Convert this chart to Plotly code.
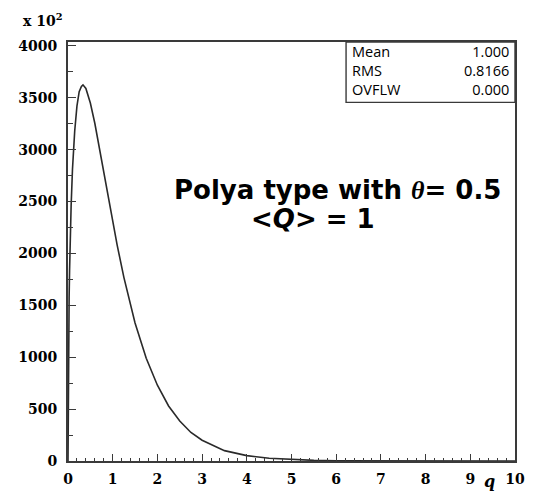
import plotly.graph_objects as go

# Curve (q, counts in units of 10^2)
q_vals = [0.0, 0.005, 0.01, 0.015, 0.025, 0.035, 0.05, 0.07, 0.1, 0.15, 0.2, 0.25,
          0.3, 0.335, 0.4, 0.5, 0.6, 0.71, 0.85, 1.0, 1.1, 1.25, 1.43, 1.5, 1.75,
          2.0, 2.25, 2.5, 2.75, 3.0, 3.5, 4.0, 4.5, 5.0, 5.5, 6.0, 7.0, 8.0, 9.0, 10.0]
counts = [0, 720, 1000, 1240, 1570, 1830, 2140, 2460, 2810, 3180, 3420, 3560,
          3610, 3625, 3590, 3450, 3255, 3000, 2660, 2300, 2080, 1770, 1450, 1330, 990,
          730, 530, 385, 275, 200, 100, 52, 26, 13, 6, 3, 1, 0, 0, 0]

y_ticks = [0, 500, 1000, 1500, 2000, 2500, 3000, 3500, 4000]
x_ticks = [0, 1, 2, 3, 4, 5, 6, 7, 8, 9, 10]

stat_names = ["Mean", "RMS", "OVFLW"]
stat_values = ["1.000", "0.8166", "0.000"]

tick_font = dict(family="DejaVu Serif", size=14, color="black", weight="bold")
frame = "#3a3a3a"

L, T, R, B = 68, 42, 8, 26
W, H = 533, 495
PW, PH = W - L - R, H - T - B
K = 0.985  # observed render scale

fig = go.Figure()
fig.add_trace(go.Scatter(x=q_vals, y=counts, mode="lines",
                         line=dict(color="#2a2a2a", width=1.6),
                         showlegend=False, hoverinfo="skip"))

fig.update_layout(
    width=W, height=H,
    margin=dict(l=L, r=R, t=T, b=B),
    paper_bgcolor="white", plot_bgcolor="white",
    xaxis=dict(range=[0, 10], tickvals=x_ticks, ticks="inside", ticklen=7,
               tickwidth=1.2, tickcolor=frame, showline=True, mirror=True,
               linecolor=frame, linewidth=1.6, showgrid=False, zeroline=False,
               tickfont=tick_font, ticklabelstandoff=4,
               minor=dict(dtick=0.2, ticks="inside", ticklen=3.5,
                          tickcolor=frame, tickwidth=1, showgrid=False)),
    yaxis=dict(range=[0, 4038], tickvals=y_ticks, ticks="inside", ticklen=8,
               tickwidth=1.2, tickcolor=frame, showline=True, mirror=True,
               linecolor=frame, linewidth=1.8, showgrid=False, zeroline=False,
               tickfont=tick_font, ticklabelstandoff=6,
               minor=dict(dtick=250, ticks="inside", ticklen=5,
                          tickcolor=frame, tickwidth=1, showgrid=False)),
)

def px_x(p):
    return (p / K - L) / PW

def px_y(p):
    return (H - B - p / K) / PH

def note(x, y, text, font, xanchor="center", align="center"):
    fig.add_annotation(x=px_x(x), y=px_y(y), xref="paper", yref="paper",
                       text=text, showarrow=False, xanchor=xanchor,
                       yanchor="middle", align=align, font=font)

# multiplier label
note(42, 19, "x 10<sup>2</sup>",
     dict(family="DejaVu Serif", size=14, color="black", weight="bold"))
# axis title q
note(491, 483, "<i>q</i>",
     dict(family="DejaVu Serif", size=16, color="black", weight="bold"))

# Main annotation
main_font = dict(family="DejaVu Sans", size=26, color="black", weight="bold")
note(338, 190,
     "Polya type with <span style='font-family:Liberation Serif'><i>θ</i></span>= 0.5",
     main_font)
note(314, 219, "&lt;<i>Q</i>&gt; = 1", main_font)

# Stats box
fig.add_shape(type="rect", xref="paper", yref="paper",
              x0=px_x(347), x1=1.0, y0=px_y(102), y1=1.0,
              line=dict(color=frame, width=1.4), fillcolor="white")
stat_font = dict(family="Open Sans", size=14.5, color="black")
note(351, 70, "<br>".join(stat_names), stat_font, xanchor="left", align="left")
note(513, 70, "<br>".join(stat_values), stat_font, xanchor="right", align="right")

fig.write_html("out.html")
